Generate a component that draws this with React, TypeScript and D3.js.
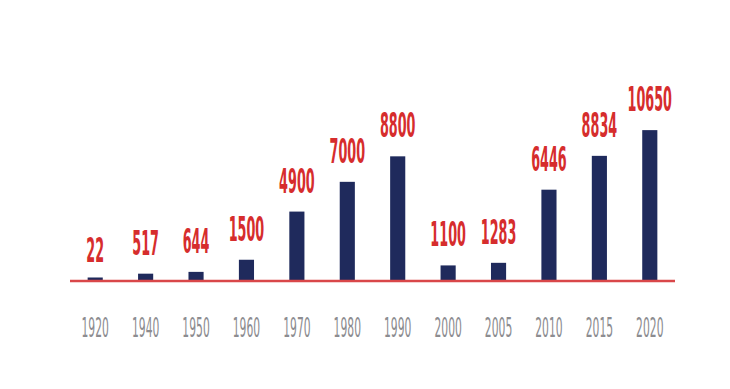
import React from 'react';
import * as d3 from 'd3';

const years = ['1920', '1940', '1950', '1960', '1970', '1980', '1990', '2000', '2005', '2010', '2015', '2020'];
const counts = [22, 517, 644, 1500, 4900, 7000, 8800, 1100, 1283, 6446, 8834, 10650];
const valueLabels = ['22', '517', '644', '1500', '4900', '7000', '8800', '1100', '1283', '6446', '8834', '10650'];

const W = 730, H = 389;
const FONT = '"DejaVu Sans Condensed", "Liberation Sans", sans-serif';

export default function App() {
    const xScale = d3.scaleBand<string>()
        .domain(years)
        .range([70, 675])
        .paddingInner(0.7)
        .paddingOuter(0.35);
    const yScale = d3.scaleLinear().domain([0, 12000]).range([281, 111]);
    const base = yScale(0);

    return (
        <svg width={W} height={H} style={{position: 'fixed', left: 0, top: 0, background: '#fff'}}>
            {counts.map((v, i) => {
                const x = xScale(years[i]) as number;
                // tiny values still show a sliver above the axis line
                const y = Math.min(yScale(v), base - 3.5);
                return (
                    <rect key={'b' + i} x={x} y={y} width={xScale.bandwidth()} height={base - y} fill="#1f2a5c" />
                );
            })}
            <line x1={70} x2={675} y1={base} y2={base} stroke="#d9474a" strokeWidth={2.5} />
            {counts.map((v, i) => {
                const cx = (xScale(years[i]) as number) + xScale.bandwidth() / 2;
                const y = yScale(v) - 19;
                return (
                    <text key={'v' + i} transform={`translate(${cx},${y}) scale(0.43,1)`} textAnchor="middle"
                          fontFamily={FONT} fontWeight="bold" fontSize={33} fill="#d62d2d">
                        {valueLabels[i]}
                    </text>
                );
            })}
            {years.map((yr, i) => {
                const cx = (xScale(yr) as number) + xScale.bandwidth() / 2;
                return (
                    <text key={'t' + i} transform={`translate(${cx},337) scale(0.46,1)`} textAnchor="middle"
                          fontFamily={FONT} fontSize={26} fill="#8c8c90">
                        {yr}
                    </text>
                );
            })}
        </svg>
    );
}
